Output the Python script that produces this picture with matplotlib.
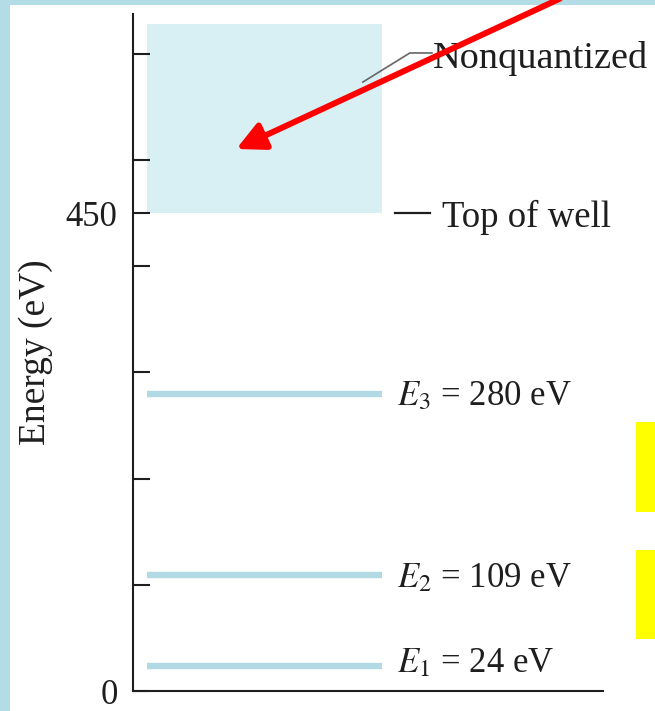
import matplotlib
matplotlib.use("Agg")
import matplotlib.pyplot as plt
from matplotlib.patches import Rectangle

plt.rcParams['font.family'] = ['Liberation Serif', 'DejaVu Serif']
plt.rcParams['mathtext.fontset'] = 'stix'

# energy levels of the finite well (eV)
level_names = ['E_1', 'E_2', 'E_3']
level_energies = [24, 109, 280]
well_top = 450
continuum_top = 628

tick_values = [0, 100, 200, 300, 400, 450, 500, 600]
tick_labels = ['0', '', '', '', '', '450', '', '']

BORDER = '#b3dce6'
LEVEL = '#b2dae4'
SHADE = '#d8eff4'
INK = '#1e1e1e'
FS = 25


def main():
    fig = plt.figure(figsize=(6.55, 7.11), dpi=100)
    fig.patch.set_facecolor(BORDER)
    # white page inside the light blue frame
    fig.add_artist(Rectangle((10 / 655, 0), 1, 1 - 5 / 711,
                             transform=fig.transFigure, facecolor='white',
                             edgecolor='none', zorder=-5))

    ax = fig.add_axes([133 / 655, 20 / 711, 470 / 655, 677 / 711])
    ax.set_facecolor('none')
    ax.set_xlim(0, 1)
    ax.set_ylim(0, 637.5)

    # nonquantized region above the well
    ax.add_patch(Rectangle((0.03, well_top), 0.5, continuum_top - well_top,
                           facecolor=SHADE, edgecolor='none'))

    # bound levels
    ax.hlines(level_energies, 0.03, 0.53, color=LEVEL, lw=4.6)
    for name, e in zip(level_names, level_energies):
        dy = -7 if e < 50 else -12
        ax.annotate(rf'${name}$ = {e} eV', xy=(0.562, e), xytext=(0, dy),
                    textcoords='offset pixels', va='baseline', ha='left',
                    fontsize=FS, color=INK, annotation_clip=False)

    # top of well marker
    ax.plot([0.557, 0.632], [well_top, well_top], color=INK, lw=1.6,
            clip_on=False)
    ax.annotate('Top of well', xy=(0.657, well_top), xytext=(0, -14),
                textcoords='offset pixels', va='baseline', ha='left',
                fontsize=26.5, color=INK, annotation_clip=False)

    # leader for the nonquantized label
    ax.plot([0.489, 0.589, 0.636], [573.4, 600.8, 600.8], color='#666666',
            lw=1.2, clip_on=False)
    ax.text(0.638, 586.6, 'Nonquantized', va='baseline', ha='left',
            fontsize=27.5, color=INK, clip_on=False)

    # red pointer arrow
    ax.annotate('', xy=(0.2198, 510.4), xytext=(0.9085, 652),
                arrowprops=dict(arrowstyle='-|>,head_length=17,head_width=8.5',
                                mutation_scale=1, color='#ff0000', lw=4.3,
                                shrinkA=0, shrinkB=0),
                annotation_clip=False, zorder=10)

    # axes styling
    for side in ['top', 'right']:
        ax.spines[side].set_visible(False)
    for side in ['left', 'bottom']:
        ax.spines[side].set_linewidth(1.5)
        ax.spines[side].set_color(INK)
    ax.set_xticks([])
    ax.set_yticks(tick_values, tick_labels)
    ax.tick_params(axis='y', direction='in', length=12.5, width=1.5, pad=11,
                   labelsize=FS, color=INK, labelcolor=INK)
    ax.set_ylabel('Energy (eV)', fontsize=27, color=INK)
    ax.yaxis.set_label_coords(-0.17, 0.5)

    # yellow marker boxes on the right edge
    for top, bottom in [(422, 512), (550, 639)]:
        fig.add_artist(Rectangle((636 / 655, (711 - bottom) / 711),
                                 0.05, (bottom - top) / 711,
                                 transform=fig.transFigure,
                                 facecolor='#ffff00', edgecolor='none'))

    fig.savefig('out.png', dpi=100, facecolor=fig.get_facecolor())


if __name__ == "__main__":
    main()
